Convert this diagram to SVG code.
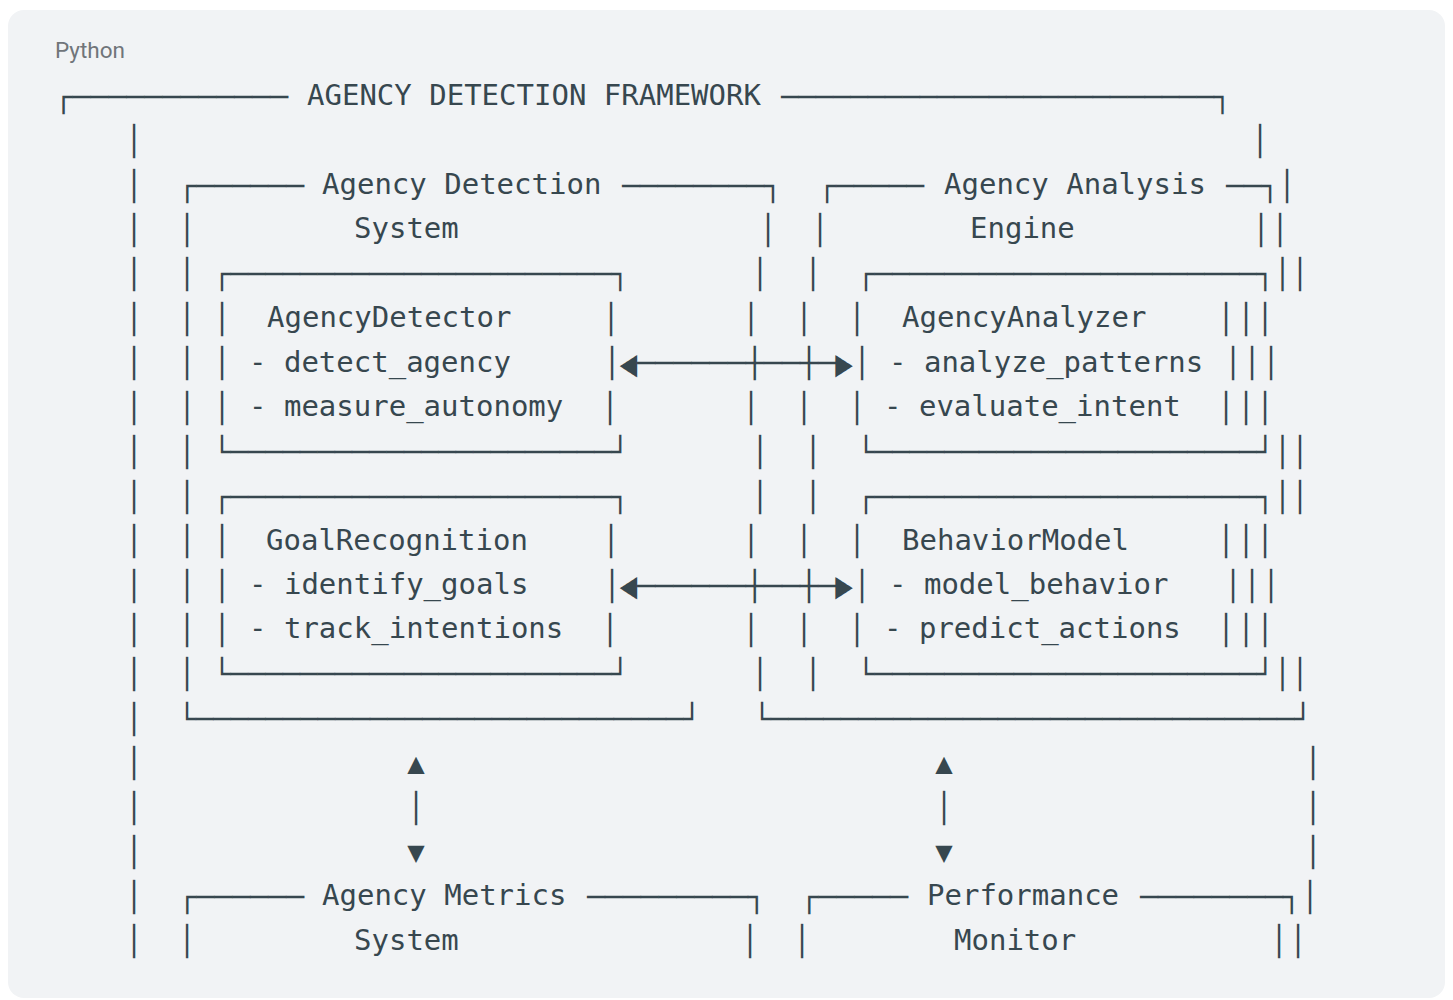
<svg xmlns="http://www.w3.org/2000/svg" width="1453" height="1000" viewBox="0 0 1453 1000">
<style>
.t{font-family:"DejaVu Sans Mono","Liberation Mono",monospace;font-size:29px;fill:#37474f;white-space:pre}
.v{font-family:"DejaVu Sans Mono","Liberation Mono",monospace;font-size:29px;fill:#37474f;text-anchor:middle}
.lbl{font-family:Roboto,"Liberation Sans",sans-serif;font-size:22.5px;fill:#70757a}
</style>
<rect x="0" y="0" width="1453" height="1000" fill="#ffffff"/>
<rect x="8" y="10" width="1437" height="988" rx="16" fill="#f1f3f5"/>
<text class="lbl" x="55" y="58">Python</text>

<g id="framework">
<text class="t" x="54.5" y="106.5" textLength="233.5" lengthAdjust="spacingAndGlyphs">┌────────────</text>
<text class="t" x="307" y="105">AGENCY DETECTION FRAMEWORK</text>
<text class="t" x="781" y="106.5" textLength="450" lengthAdjust="spacingAndGlyphs">─────────────────────────┐</text>
<text class="v" x="134" y="151">│</text>
<text class="v" x="134" y="195.5">│</text>
<text class="v" x="134" y="239.9">│</text>
<text class="v" x="134" y="284.3">│</text>
<text class="v" x="134" y="328.8">│</text>
<text class="v" x="134" y="373.2">│</text>
<text class="v" x="134" y="417.7">│</text>
<text class="v" x="134" y="462.1">│</text>
<text class="v" x="134" y="506.5">│</text>
<text class="v" x="134" y="551">│</text>
<text class="v" x="134" y="595.5">│</text>
<text class="v" x="134" y="639.9">│</text>
<text class="v" x="134" y="684.4">│</text>
<text class="v" x="134" y="728.8">│</text>
<text class="v" x="134" y="773.3">│</text>
<text class="v" x="134" y="817.7">│</text>
<text class="v" x="134" y="862.2">│</text>
<text class="v" x="134" y="906.6">│</text>
<text class="v" x="134" y="951.1">│</text>
<text class="v" x="1260" y="151">│</text>
<text class="v" x="1287" y="195.5">│</text>
<text class="v" x="1280" y="239.9">│</text>
<text class="v" x="1265" y="328.8">│</text>
<text class="v" x="1271" y="373.2">│</text>
<text class="v" x="1265" y="417.7">│</text>
<text class="v" x="1265" y="551">│</text>
<text class="v" x="1271" y="595.5">│</text>
<text class="v" x="1265" y="639.9">│</text>
<text class="v" x="1313" y="773.3">│</text>
<text class="v" x="1313" y="817.7">│</text>
<text class="v" x="1313" y="862.2">│</text>
<text class="v" x="1310" y="906.6">│</text>
<text class="v" x="1298" y="951.1">│</text>
</g>

<g id="agency-detection-system">
<text class="t" x="178.3" y="195.5" textLength="125.7" lengthAdjust="spacingAndGlyphs">┌──────</text>
<text class="t" x="322" y="194">Agency Detection</text>
<text class="t" x="622" y="195.5" textLength="159.7" lengthAdjust="spacingAndGlyphs">────────┐</text>
<text class="t" x="354" y="238.4">System</text>
<text class="v" x="187" y="239.9">│</text>
<text class="v" x="187" y="284.3">│</text>
<text class="v" x="187" y="328.8">│</text>
<text class="v" x="187" y="373.2">│</text>
<text class="v" x="187" y="417.7">│</text>
<text class="v" x="187" y="462.1">│</text>
<text class="v" x="187" y="506.5">│</text>
<text class="v" x="187" y="551">│</text>
<text class="v" x="187" y="595.5">│</text>
<text class="v" x="187" y="639.9">│</text>
<text class="v" x="187" y="684.4">│</text>
<text class="v" x="768" y="239.9">│</text>
<text class="v" x="760" y="284.3">│</text>
<text class="v" x="751" y="328.8">│</text>
<text class="v" x="751" y="417.7">│</text>
<text class="v" x="760" y="462.1">│</text>
<text class="v" x="760" y="506.5">│</text>
<text class="v" x="751" y="551">│</text>
<text class="v" x="751" y="639.9">│</text>
<text class="v" x="760" y="684.4">│</text>
<text class="t" x="178.3" y="728.8" textLength="522.4" lengthAdjust="spacingAndGlyphs">└────────────────────────────┘</text>
</g>

<g id="agency-analysis-engine">
<text class="t" x="818.3" y="195.5" textLength="105.7" lengthAdjust="spacingAndGlyphs">┌─────</text>
<text class="t" x="944" y="194">Agency Analysis</text>
<text class="t" x="1226" y="195.5" textLength="52.7" lengthAdjust="spacingAndGlyphs">──┐</text>
<text class="t" x="970" y="238.4">Engine</text>
<text class="v" x="820" y="239.9">│</text>
<text class="v" x="813" y="284.3">│</text>
<text class="v" x="804" y="328.8">│</text>
<text class="v" x="804" y="417.7">│</text>
<text class="v" x="813" y="462.1">│</text>
<text class="v" x="813" y="506.5">│</text>
<text class="v" x="804" y="551">│</text>
<text class="v" x="804" y="639.9">│</text>
<text class="v" x="813" y="684.4">│</text>
<text class="v" x="1261" y="239.9">│</text>
<text class="v" x="1246" y="328.8">│</text>
<text class="v" x="1252" y="373.2">│</text>
<text class="v" x="1246" y="417.7">│</text>
<text class="v" x="1246" y="551">│</text>
<text class="v" x="1252" y="595.5">│</text>
<text class="v" x="1246" y="639.9">│</text>
<text class="t" x="753.3" y="728.8" textLength="558.4" lengthAdjust="spacingAndGlyphs">└──────────────────────────────┘</text>
</g>

<g id="agency-detector">
<text class="t" x="213.3" y="284.3" textLength="415.4" lengthAdjust="spacingAndGlyphs">┌──────────────────────┐</text>
<text class="v" x="222" y="328.8">│</text>
<text class="t" x="267" y="327.3">AgencyDetector</text>
<text class="v" x="611" y="328.8">│</text>
<text class="v" x="222" y="373.2">│</text>
<text class="t" x="249" y="371.7">- detect_agency</text>
<text class="v" x="612" y="373.2">│</text>
<text class="v" x="222" y="417.7">│</text>
<text class="t" x="249" y="416.2">- measure_autonomy</text>
<text class="v" x="610" y="417.7">│</text>
<text class="t" x="213.3" y="462.1" textLength="415.4" lengthAdjust="spacingAndGlyphs">└──────────────────────┘</text>
</g>

<g id="goal-recognition">
<text class="t" x="213.3" y="506.5" textLength="415.4" lengthAdjust="spacingAndGlyphs">┌──────────────────────┐</text>
<text class="v" x="222" y="551">│</text>
<text class="t" x="266" y="549.5">GoalRecognition</text>
<text class="v" x="611" y="551">│</text>
<text class="v" x="222" y="595.5">│</text>
<text class="t" x="249" y="594">- identify_goals</text>
<text class="v" x="612" y="595.5">│</text>
<text class="v" x="222" y="639.9">│</text>
<text class="t" x="249" y="638.4">- track_intentions</text>
<text class="v" x="610" y="639.9">│</text>
<text class="t" x="213.3" y="684.4" textLength="415.4" lengthAdjust="spacingAndGlyphs">└──────────────────────┘</text>
</g>

<g id="agency-analyzer">
<text class="t" x="857.3" y="284.3" textLength="451.2" lengthAdjust="spacingAndGlyphs">┌──────────────────────┐││</text>
<text class="v" x="857" y="328.8">│</text>
<text class="t" x="902" y="327.3">AgencyAnalyzer</text>
<text class="v" x="1226" y="328.8">│</text>
<text class="v" x="862" y="373.2">│</text>
<text class="t" x="889" y="371.7">- analyze_patterns</text>
<text class="v" x="1233" y="373.2">│</text>
<text class="v" x="857" y="417.7">│</text>
<text class="t" x="884" y="416.2">- evaluate_intent</text>
<text class="v" x="1226" y="417.7">│</text>
<text class="t" x="857.3" y="462.1" textLength="451.2" lengthAdjust="spacingAndGlyphs">└──────────────────────┘││</text>
</g>

<g id="behavior-model">
<text class="t" x="857.3" y="506.5" textLength="451.2" lengthAdjust="spacingAndGlyphs">┌──────────────────────┐││</text>
<text class="v" x="857" y="551">│</text>
<text class="t" x="902" y="549.5">BehaviorModel</text>
<text class="v" x="1226" y="551">│</text>
<text class="v" x="862" y="595.5">│</text>
<text class="t" x="889" y="594">- model_behavior</text>
<text class="v" x="1233" y="595.5">│</text>
<text class="v" x="857" y="639.9">│</text>
<text class="t" x="884" y="638.4">- predict_actions</text>
<text class="v" x="1226" y="639.9">│</text>
<text class="t" x="857.3" y="684.4" textLength="451.2" lengthAdjust="spacingAndGlyphs">└──────────────────────┘││</text>
</g>

<g id="agency-metrics-system">
<text class="t" x="178.3" y="906.6" textLength="125.7" lengthAdjust="spacingAndGlyphs">┌──────</text>
<text class="t" x="322" y="905.1">Agency Metrics</text>
<text class="t" x="587" y="906.6" textLength="178.7" lengthAdjust="spacingAndGlyphs">─────────┐</text>
<text class="v" x="187" y="951.1">│</text>
<text class="t" x="354" y="949.6">System</text>
<text class="v" x="750" y="951.1">│</text>
</g>

<g id="performance-monitor">
<text class="t" x="800.3" y="906.6" textLength="107.7" lengthAdjust="spacingAndGlyphs">┌─────</text>
<text class="t" x="927" y="905.1">Performance</text>
<text class="t" x="1140" y="906.6" textLength="160.7" lengthAdjust="spacingAndGlyphs">────────┐</text>
<text class="v" x="802" y="951.1">│</text>
<text class="t" x="954" y="949.6">Monitor</text>
<text class="v" x="1279" y="951.1">│</text>
</g>

<g id="connectors">
<text class="v" transform="translate(628.5,364) scale(1,1.3)" y="9">◀</text>
<text class="t" x="637" y="373.2" textLength="199" lengthAdjust="spacingAndGlyphs">──────┼──┼─</text>
<text class="v" transform="translate(844,364) scale(1,1.3)" y="9">▶</text>
<text class="v" transform="translate(628.5,586.5) scale(1,1.3)" y="9">◀</text>
<text class="t" x="637" y="595.5" textLength="199" lengthAdjust="spacingAndGlyphs">──────┼──┼─</text>
<text class="v" transform="translate(844,586.5) scale(1,1.3)" y="9">▶</text>
<text class="v" x="416" y="773.3">▲</text>
<text class="v" x="416" y="817.7">│</text>
<text class="v" x="416" y="862.2">▼</text>
<text class="v" x="944" y="773.3">▲</text>
<text class="v" x="944" y="817.7">│</text>
<text class="v" x="944" y="862.2">▼</text>
</g>
</svg>
